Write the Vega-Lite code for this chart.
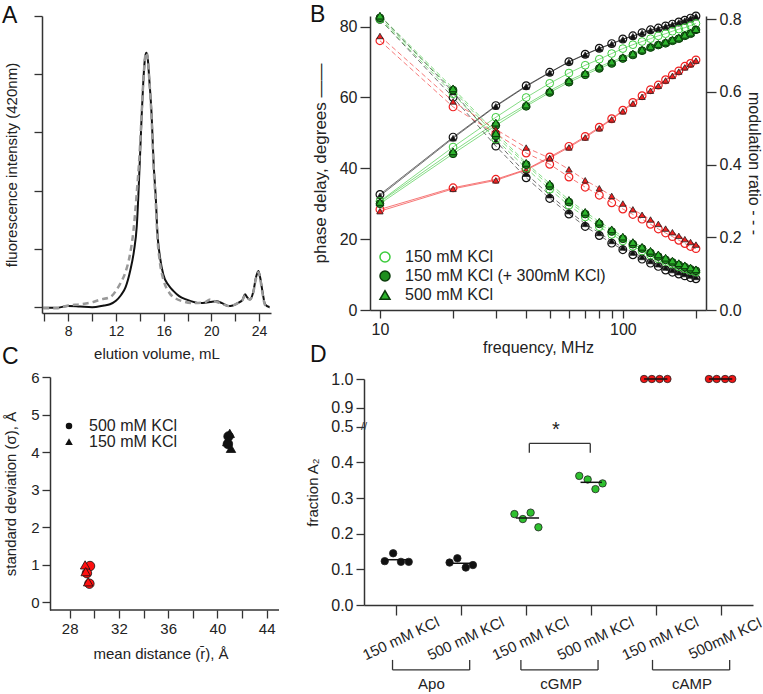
{
"$schema":"https://vega.github.io/schema/vega-lite/v6.json",
"padding":{"left":2,"top":3,"right":0,"bottom":0},
"config":{"font":"Liberation Sans","view":{"stroke":null},
"axis":{"grid":false,"domainColor":"#333","tickColor":"#333","labelColor":"#222","titleColor":"#222","domainWidth":1.5,"tickWidth":1.3,"tickSize":8,"titleFontWeight":"normal","labelFontSize":14,"titleFontSize":15,"labelPadding":3,"labelOverlap":false,"tickCount":30},
"legend":{"labelColor":"#222"},"title":{"color":"#111","fontWeight":"normal"}},
"datasets":{
"ad":[
{"k":"solid","x":5.9,"y":-0.01},{"k":"solid","x":7,"y":-0.01},{"k":"solid","x":8,"y":0.02},{"k":"solid","x":9,"y":0.01},{"k":"solid","x":10,"y":0.0},{"k":"solid","x":11,"y":0.03},{"k":"solid","x":11.5,"y":0.05},{"k":"solid","x":12,"y":0.11},{"k":"solid","x":12.4,"y":0.2},{"k":"solid","x":12.8,"y":0.34},{"k":"solid","x":13.2,"y":0.63},{"k":"solid","x":13.5,"y":0.95},{"k":"solid","x":13.75,"y":1.4},{"k":"solid","x":14.0,"y":2.5},{"k":"solid","x":14.15,"y":3.26},{"k":"solid","x":14.3,"y":3.9},{"k":"solid","x":14.45,"y":4.3},{"k":"solid","x":14.55,"y":4.37},{"k":"solid","x":14.65,"y":4.3},{"k":"solid","x":14.8,"y":3.9},{"k":"solid","x":15.0,"y":3.26},{"k":"solid","x":15.15,"y":2.5},{"k":"solid","x":15.36,"y":1.8},{"k":"solid","x":15.45,"y":1.37},{"k":"solid","x":15.7,"y":0.85},{"k":"solid","x":15.97,"y":0.56},{"k":"solid","x":16.4,"y":0.38},{"k":"solid","x":16.81,"y":0.28},{"k":"solid","x":17.3,"y":0.19},{"k":"solid","x":17.93,"y":0.13},{"k":"solid","x":19.05,"y":0.07},{"k":"solid","x":19.9,"y":0.09},{"k":"solid","x":20.4,"y":0.1},{"k":"solid","x":20.9,"y":0.07},{"k":"solid","x":21.4,"y":0.02},{"k":"solid","x":21.8,"y":0.03},{"k":"solid","x":22.3,"y":0.08},{"k":"solid","x":22.6,"y":0.12},{"k":"solid","x":22.82,"y":0.22},{"k":"solid","x":23.0,"y":0.17},{"k":"solid","x":23.24,"y":0.13},{"k":"solid","x":23.5,"y":0.25},{"k":"solid","x":23.75,"y":0.52},{"k":"solid","x":23.94,"y":0.62},{"k":"solid","x":24.1,"y":0.5},{"k":"solid","x":24.3,"y":0.25},{"k":"solid","x":24.5,"y":0.05},{"k":"solid","x":24.9,"y":0.0},
{"k":"dashed","x":5.9,"y":-0.02},{"k":"dashed","x":7,"y":-0.02},{"k":"dashed","x":8,"y":0.03},{"k":"dashed","x":9,"y":0.05},{"k":"dashed","x":10.1,"y":0.09},{"k":"dashed","x":10.67,"y":0.13},{"k":"dashed","x":11.5,"y":0.17},{"k":"dashed","x":12.06,"y":0.3},{"k":"dashed","x":12.4,"y":0.42},{"k":"dashed","x":12.76,"y":0.58},{"k":"dashed","x":13.18,"y":0.91},{"k":"dashed","x":13.46,"y":1.3},{"k":"dashed","x":13.74,"y":1.95},{"k":"dashed","x":14.0,"y":2.7},{"k":"dashed","x":14.15,"y":3.3},{"k":"dashed","x":14.3,"y":3.9},{"k":"dashed","x":14.45,"y":4.3},{"k":"dashed","x":14.55,"y":4.37},{"k":"dashed","x":14.65,"y":4.3},{"k":"dashed","x":14.8,"y":3.9},{"k":"dashed","x":15.0,"y":3.2},{"k":"dashed","x":15.15,"y":2.45},{"k":"dashed","x":15.36,"y":1.7},{"k":"dashed","x":15.45,"y":1.3},{"k":"dashed","x":15.7,"y":0.75},{"k":"dashed","x":15.97,"y":0.48},{"k":"dashed","x":16.5,"y":0.24},{"k":"dashed","x":17.0,"y":0.15},{"k":"dashed","x":17.6,"y":0.1},{"k":"dashed","x":18.5,"y":0.07},{"k":"dashed","x":19.4,"y":0.08},{"k":"dashed","x":19.9,"y":0.13},{"k":"dashed","x":20.3,"y":0.1},{"k":"dashed","x":20.9,"y":0.06},{"k":"dashed","x":21.4,"y":0.02},{"k":"dashed","x":21.8,"y":0.03},{"k":"dashed","x":22.3,"y":0.08},{"k":"dashed","x":22.6,"y":0.12},{"k":"dashed","x":22.82,"y":0.2},{"k":"dashed","x":23.0,"y":0.16},{"k":"dashed","x":23.24,"y":0.13},{"k":"dashed","x":23.5,"y":0.24},{"k":"dashed","x":23.75,"y":0.5},{"k":"dashed","x":23.94,"y":0.6},{"k":"dashed","x":24.1,"y":0.48},{"k":"dashed","x":24.3,"y":0.22},{"k":"dashed","x":24.5,"y":0.04},{"k":"dashed","x":24.9,"y":0.0}
],
"bd":[
{"f":10,"s":"apo","c":"150 mM KCl","ph":32.6,"m":0.8},{"f":20,"s":"apo","c":"150 mM KCl","ph":48.8,"m":0.585},{"f":30,"s":"apo","c":"150 mM KCl","ph":57.7,"m":0.451},{"f":40,"s":"apo","c":"150 mM KCl","ph":63.3,"m":0.364},{"f":50,"s":"apo","c":"150 mM KCl","ph":67.1,"m":0.307},{"f":60,"s":"apo","c":"150 mM KCl","ph":70.1,"m":0.264},{"f":70,"s":"apo","c":"150 mM KCl","ph":72.2,"m":0.23},{"f":80,"s":"apo","c":"150 mM KCl","ph":73.9,"m":0.205},{"f":90,"s":"apo","c":"150 mM KCl","ph":75.2,"m":0.184},{"f":100,"s":"apo","c":"150 mM KCl","ph":76.5,"m":0.166},{"f":110,"s":"apo","c":"150 mM KCl","ph":77.4,"m":0.152},{"f":120,"s":"apo","c":"150 mM KCl","ph":78.3,"m":0.14},{"f":130,"s":"apo","c":"150 mM KCl","ph":79.1,"m":0.129},{"f":140,"s":"apo","c":"150 mM KCl","ph":79.6,"m":0.12},{"f":150,"s":"apo","c":"150 mM KCl","ph":80.2,"m":0.11},{"f":160,"s":"apo","c":"150 mM KCl","ph":80.7,"m":0.104},{"f":170,"s":"apo","c":"150 mM KCl","ph":81.3,"m":0.099},{"f":180,"s":"apo","c":"150 mM KCl","ph":81.8,"m":0.094},{"f":190,"s":"apo","c":"150 mM KCl","ph":82.4,"m":0.089},{"f":200,"s":"apo","c":"150 mM KCl","ph":83.0,"m":0.086},
{"f":10,"s":"apo","c":"500 mM KCl","ph":32.2,"m":0.81},{"f":20,"s":"apo","c":"500 mM KCl","ph":48.5,"m":0.6},{"f":30,"s":"apo","c":"500 mM KCl","ph":57.5,"m":0.465},{"f":40,"s":"apo","c":"500 mM KCl","ph":63.1,"m":0.375},{"f":50,"s":"apo","c":"500 mM KCl","ph":67.0,"m":0.316},{"f":60,"s":"apo","c":"500 mM KCl","ph":70.0,"m":0.272},{"f":70,"s":"apo","c":"500 mM KCl","ph":72.1,"m":0.237},{"f":80,"s":"apo","c":"500 mM KCl","ph":73.8,"m":0.212},{"f":90,"s":"apo","c":"500 mM KCl","ph":75.1,"m":0.19},{"f":100,"s":"apo","c":"500 mM KCl","ph":76.4,"m":0.172},{"f":110,"s":"apo","c":"500 mM KCl","ph":77.3,"m":0.158},{"f":120,"s":"apo","c":"500 mM KCl","ph":78.2,"m":0.146},{"f":130,"s":"apo","c":"500 mM KCl","ph":79.0,"m":0.135},{"f":140,"s":"apo","c":"500 mM KCl","ph":79.5,"m":0.126},{"f":150,"s":"apo","c":"500 mM KCl","ph":80.1,"m":0.117},{"f":160,"s":"apo","c":"500 mM KCl","ph":80.6,"m":0.11},{"f":170,"s":"apo","c":"500 mM KCl","ph":81.2,"m":0.104},{"f":180,"s":"apo","c":"500 mM KCl","ph":81.7,"m":0.099},{"f":190,"s":"apo","c":"500 mM KCl","ph":82.3,"m":0.095},{"f":200,"s":"apo","c":"500 mM KCl","ph":82.9,"m":0.091},
{"f":10,"s":"cGMP","c":"150 mM KCl","ph":30.7,"m":0.8},{"f":20,"s":"cGMP","c":"150 mM KCl","ph":46.0,"m":0.595},{"f":30,"s":"cGMP","c":"150 mM KCl","ph":54.4,"m":0.47},{"f":40,"s":"cGMP","c":"150 mM KCl","ph":60.0,"m":0.39},{"f":50,"s":"cGMP","c":"150 mM KCl","ph":64.0,"m":0.332},{"f":60,"s":"cGMP","c":"150 mM KCl","ph":66.9,"m":0.288},{"f":70,"s":"cGMP","c":"150 mM KCl","ph":69.1,"m":0.256},{"f":80,"s":"cGMP","c":"150 mM KCl","ph":70.8,"m":0.229},{"f":90,"s":"cGMP","c":"150 mM KCl","ph":72.4,"m":0.208},{"f":100,"s":"cGMP","c":"150 mM KCl","ph":73.8,"m":0.19},{"f":110,"s":"cGMP","c":"150 mM KCl","ph":74.9,"m":0.175},{"f":120,"s":"cGMP","c":"150 mM KCl","ph":75.8,"m":0.162},{"f":130,"s":"cGMP","c":"150 mM KCl","ph":76.6,"m":0.151},{"f":140,"s":"cGMP","c":"150 mM KCl","ph":77.4,"m":0.141},{"f":150,"s":"cGMP","c":"150 mM KCl","ph":78.0,"m":0.133},{"f":160,"s":"cGMP","c":"150 mM KCl","ph":78.7,"m":0.126},{"f":170,"s":"cGMP","c":"150 mM KCl","ph":79.3,"m":0.119},{"f":180,"s":"cGMP","c":"150 mM KCl","ph":79.7,"m":0.113},{"f":190,"s":"cGMP","c":"150 mM KCl","ph":80.3,"m":0.108},{"f":200,"s":"cGMP","c":"150 mM KCl","ph":80.9,"m":0.104},
{"f":10,"s":"cGMP","c":"150 mM KCl (+ 300mM KCl)","ph":30.0,"m":0.804},{"f":20,"s":"cGMP","c":"150 mM KCl (+ 300mM KCl)","ph":44.1,"m":0.605},{"f":30,"s":"cGMP","c":"150 mM KCl (+ 300mM KCl)","ph":52.1,"m":0.479},{"f":40,"s":"cGMP","c":"150 mM KCl (+ 300mM KCl)","ph":57.5,"m":0.4},{"f":50,"s":"cGMP","c":"150 mM KCl (+ 300mM KCl)","ph":61.4,"m":0.341},{"f":60,"s":"cGMP","c":"150 mM KCl (+ 300mM KCl)","ph":64.3,"m":0.297},{"f":70,"s":"cGMP","c":"150 mM KCl (+ 300mM KCl)","ph":66.4,"m":0.264},{"f":80,"s":"cGMP","c":"150 mM KCl (+ 300mM KCl)","ph":68.2,"m":0.237},{"f":90,"s":"cGMP","c":"150 mM KCl (+ 300mM KCl)","ph":69.6,"m":0.216},{"f":100,"s":"cGMP","c":"150 mM KCl (+ 300mM KCl)","ph":71.0,"m":0.196},{"f":110,"s":"cGMP","c":"150 mM KCl (+ 300mM KCl)","ph":72.0,"m":0.181},{"f":120,"s":"cGMP","c":"150 mM KCl (+ 300mM KCl)","ph":73.2,"m":0.169},{"f":130,"s":"cGMP","c":"150 mM KCl (+ 300mM KCl)","ph":74.1,"m":0.157},{"f":140,"s":"cGMP","c":"150 mM KCl (+ 300mM KCl)","ph":74.8,"m":0.147},{"f":150,"s":"cGMP","c":"150 mM KCl (+ 300mM KCl)","ph":75.3,"m":0.138},{"f":160,"s":"cGMP","c":"150 mM KCl (+ 300mM KCl)","ph":76.0,"m":0.131},{"f":170,"s":"cGMP","c":"150 mM KCl (+ 300mM KCl)","ph":76.6,"m":0.124},{"f":180,"s":"cGMP","c":"150 mM KCl (+ 300mM KCl)","ph":77.4,"m":0.118},{"f":190,"s":"cGMP","c":"150 mM KCl (+ 300mM KCl)","ph":78.0,"m":0.112},{"f":200,"s":"cGMP","c":"150 mM KCl (+ 300mM KCl)","ph":79.1,"m":0.108},
{"f":10,"s":"cGMP","c":"500 mM KCl","ph":30.5,"m":0.81},{"f":20,"s":"cGMP","c":"500 mM KCl","ph":44.8,"m":0.61},{"f":30,"s":"cGMP","c":"500 mM KCl","ph":52.9,"m":0.487},{"f":40,"s":"cGMP","c":"500 mM KCl","ph":58.0,"m":0.405},{"f":50,"s":"cGMP","c":"500 mM KCl","ph":61.9,"m":0.348},{"f":60,"s":"cGMP","c":"500 mM KCl","ph":64.8,"m":0.303},{"f":70,"s":"cGMP","c":"500 mM KCl","ph":66.9,"m":0.27},{"f":80,"s":"cGMP","c":"500 mM KCl","ph":68.7,"m":0.243},{"f":90,"s":"cGMP","c":"500 mM KCl","ph":70.1,"m":0.222},{"f":100,"s":"cGMP","c":"500 mM KCl","ph":71.4,"m":0.202},{"f":110,"s":"cGMP","c":"500 mM KCl","ph":72.4,"m":0.187},{"f":120,"s":"cGMP","c":"500 mM KCl","ph":73.5,"m":0.174},{"f":130,"s":"cGMP","c":"500 mM KCl","ph":74.4,"m":0.163},{"f":140,"s":"cGMP","c":"500 mM KCl","ph":75.1,"m":0.153},{"f":150,"s":"cGMP","c":"500 mM KCl","ph":75.7,"m":0.144},{"f":160,"s":"cGMP","c":"500 mM KCl","ph":76.3,"m":0.136},{"f":170,"s":"cGMP","c":"500 mM KCl","ph":76.9,"m":0.129},{"f":180,"s":"cGMP","c":"500 mM KCl","ph":77.7,"m":0.123},{"f":190,"s":"cGMP","c":"500 mM KCl","ph":78.3,"m":0.117},{"f":200,"s":"cGMP","c":"500 mM KCl","ph":79.3,"m":0.112},
{"f":10,"s":"cAMP","c":"150 mM KCl","ph":28.4,"m":0.741},{"f":20,"s":"cAMP","c":"150 mM KCl","ph":34.5,"m":0.559},{"f":30,"s":"cAMP","c":"150 mM KCl","ph":36.9,"m":0.485},{"f":40,"s":"cAMP","c":"150 mM KCl","ph":39.7,"m":0.432},{"f":50,"s":"cAMP","c":"150 mM KCl","ph":43.2,"m":0.401},{"f":60,"s":"cAMP","c":"150 mM KCl","ph":46.2,"m":0.366},{"f":70,"s":"cAMP","c":"150 mM KCl","ph":49.0,"m":0.338},{"f":80,"s":"cAMP","c":"150 mM KCl","ph":51.6,"m":0.316},{"f":90,"s":"cAMP","c":"150 mM KCl","ph":54.0,"m":0.295},{"f":100,"s":"cAMP","c":"150 mM KCl","ph":56.4,"m":0.278},{"f":110,"s":"cAMP","c":"150 mM KCl","ph":58.6,"m":0.263},{"f":120,"s":"cAMP","c":"150 mM KCl","ph":60.5,"m":0.25},{"f":130,"s":"cAMP","c":"150 mM KCl","ph":62.2,"m":0.236},{"f":140,"s":"cAMP","c":"150 mM KCl","ph":63.5,"m":0.223},{"f":150,"s":"cAMP","c":"150 mM KCl","ph":65.0,"m":0.212},{"f":160,"s":"cAMP","c":"150 mM KCl","ph":66.4,"m":0.202},{"f":170,"s":"cAMP","c":"150 mM KCl","ph":67.5,"m":0.192},{"f":180,"s":"cAMP","c":"150 mM KCl","ph":68.8,"m":0.183},{"f":190,"s":"cAMP","c":"150 mM KCl","ph":69.6,"m":0.175},{"f":200,"s":"cAMP","c":"150 mM KCl","ph":70.6,"m":0.169},
{"f":10,"s":"cAMP","c":"500 mM KCl","ph":27.9,"m":0.754},{"f":20,"s":"cAMP","c":"500 mM KCl","ph":34.2,"m":0.574},{"f":30,"s":"cAMP","c":"500 mM KCl","ph":36.6,"m":0.497},{"f":40,"s":"cAMP","c":"500 mM KCl","ph":39.5,"m":0.447},{"f":50,"s":"cAMP","c":"500 mM KCl","ph":42.9,"m":0.418},{"f":60,"s":"cAMP","c":"500 mM KCl","ph":45.9,"m":0.387},{"f":70,"s":"cAMP","c":"500 mM KCl","ph":48.7,"m":0.357},{"f":80,"s":"cAMP","c":"500 mM KCl","ph":51.3,"m":0.335},{"f":90,"s":"cAMP","c":"500 mM KCl","ph":53.8,"m":0.314},{"f":100,"s":"cAMP","c":"500 mM KCl","ph":56.1,"m":0.293},{"f":110,"s":"cAMP","c":"500 mM KCl","ph":58.3,"m":0.277},{"f":120,"s":"cAMP","c":"500 mM KCl","ph":60.2,"m":0.262},{"f":130,"s":"cAMP","c":"500 mM KCl","ph":61.9,"m":0.249},{"f":140,"s":"cAMP","c":"500 mM KCl","ph":63.3,"m":0.237},{"f":150,"s":"cAMP","c":"500 mM KCl","ph":64.8,"m":0.224},{"f":160,"s":"cAMP","c":"500 mM KCl","ph":66.1,"m":0.214},{"f":170,"s":"cAMP","c":"500 mM KCl","ph":67.3,"m":0.204},{"f":180,"s":"cAMP","c":"500 mM KCl","ph":68.5,"m":0.195},{"f":190,"s":"cAMP","c":"500 mM KCl","ph":69.4,"m":0.187},{"f":200,"s":"cAMP","c":"500 mM KCl","ph":70.4,"m":0.18}
],
"cd":[
{"x":29.65,"y":0.97,"s":"500 mM KCl","g":"cAMP"},{"x":29.6,"y":0.5,"s":"500 mM KCl","g":"cAMP"},{"x":29.4,"y":0.78,"s":"500 mM KCl","g":"cAMP"},
{"x":40.9,"y":4.42,"s":"500 mM KCl","g":"Apo"},{"x":40.85,"y":4.22,"s":"500 mM KCl","g":"Apo"},
{"x":29.25,"y":1.0,"s":"150 mM KCl","g":"cAMP"},{"x":29.3,"y":0.82,"s":"150 mM KCl","g":"cAMP"},{"x":29.5,"y":0.55,"s":"150 mM KCl","g":"cAMP"},
{"x":41.0,"y":4.5,"s":"150 mM KCl","g":"Apo"},{"x":40.8,"y":4.28,"s":"150 mM KCl","g":"Apo"},{"x":41.1,"y":4.1,"s":"150 mM KCl","g":"Apo"}
],
"dpts":[
{"x":0.82,"v":0.123,"g":"Apo"},{"x":0.95,"v":0.145,"g":"Apo"},{"x":1.07,"v":0.121,"g":"Apo"},{"x":1.19,"v":0.121,"g":"Apo"},
{"x":1.82,"v":0.119,"g":"Apo"},{"x":1.94,"v":0.131,"g":"Apo"},{"x":2.07,"v":0.105,"g":"Apo"},{"x":2.18,"v":0.112,"g":"Apo"},
{"x":2.82,"v":0.255,"g":"cGMP"},{"x":2.95,"v":0.241,"g":"cGMP"},{"x":3.07,"v":0.259,"g":"cGMP"},{"x":3.19,"v":0.218,"g":"cGMP"},
{"x":3.82,"v":0.362,"g":"cGMP"},{"x":3.95,"v":0.352,"g":"cGMP"},{"x":4.07,"v":0.325,"g":"cGMP"},{"x":4.18,"v":0.341,"g":"cGMP"},
{"x":4.82,"v":1.0,"g":"cAMP"},{"x":4.94,"v":1.0,"g":"cAMP"},{"x":5.06,"v":1.0,"g":"cAMP"},{"x":5.18,"v":1.0,"g":"cAMP"},
{"x":5.82,"v":1.0,"g":"cAMP"},{"x":5.94,"v":1.0,"g":"cAMP"},{"x":6.07,"v":1.0,"g":"cAMP"},{"x":6.18,"v":1.0,"g":"cAMP"}
],
"dmed":[{"a":0.84,"b":1.17,"v":0.127},{"a":1.84,"b":2.16,"v":0.117},{"a":2.84,"b":3.2,"v":0.244},{"a":3.84,"b":4.17,"v":0.344},{"a":4.82,"b":5.18,"v":1.0},{"a":5.82,"b":6.18,"v":1.0}],
"dsig":[{"a":3.05,"b":3.99,"mid":3.46,"t":"*"}],
"dgrp":[{"n":"Apo","a":0.94,"b":2.13,"mid":1.54},{"n":"cGMP","a":2.92,"b":4.11,"mid":3.54},{"n":"cAMP","a":4.95,"b":6.14,"mid":5.56}],
"dbrk":[{"t":"//"}]
},
"vconcat":[
{"hconcat":[
{"width":229,"height":297,
"title":{"text":"A","anchor":"start","frame":"group","fontSize":23,"fontWeight":"normal","dx":-40,"offset":0,"baseline":"alphabetic","dy":31},
"data":{"name":"ad"},
"encoding":{
"x":{"field":"x","type":"quantitative","scale":{"domain":[5.8,25],"nice":false,"zero":false},"axis":{"values":[6,8,10,12,14,16,18,20,22,24],"format":"d","labelExpr":"datum.value%4==0?datum.label:''","title":"elution volume,  mL","labelFontSize":14,"titleFontSize":15,"titlePadding":8}},
"y":{"field":"y","type":"quantitative","scale":{"domain":[-0.1,5],"nice":false,"zero":false},"axis":{"values":[0,1,2,3,4,5],"labels":false,"title":"fluorescence intensity (420nm)","titleFontSize":15,"titlePadding":14}}},
"layer":[
{"transform":[{"filter":"datum.k=='solid'"}],"mark":{"type":"line","color":"#111","strokeWidth":2,"interpolate":"monotone"}},
{"transform":[{"filter":"datum.k=='dashed'"}],"mark":{"type":"line","color":"#999","strokeWidth":2.5,"strokeDash":[6,4],"interpolate":"monotone"}}
]},
{"width":336,"height":294,
"title":{"text":"B","anchor":"start","frame":"group","fontSize":23,"fontWeight":"normal","dx":-60,"offset":0,"baseline":"alphabetic","dy":35},
"data":{"name":"bd"},
"encoding":{"x":{"field":"f","type":"quantitative","scale":{"type":"log","domain":[9.1,220],"nice":false},"axis":{"values":[10,20,30,40,50,60,70,80,90,100,200],"format":"d","labelExpr":"datum.value==10||datum.value==100?datum.label:''","title":"frequency, MHz","labelFontSize":16,"titleFontSize":16,"titlePadding":2}}},
"layer":[
{"encoding":{"y":{"field":"ph","type":"quantitative","scale":{"domain":[0,83],"nice":false,"zero":false},"axis":{"values":[0,20,40,60,80],"format":"d","title":"phase delay, degrees ——","titleFontSize":17,"labelFontSize":16,"tickSize":10,"titlePadding":10}}},
"layer":[
{"mark":{"type":"line","strokeWidth":1,"opacity":0.6},"encoding":{"color":{"field":"s","type":"nominal","scale":{"domain":["apo","cGMP","cAMP"],"range":["#111111","#33c433","#f02020"]},"legend":null},"detail":{"field":"c"}}},
{"transform":[{"filter":"datum.s!='cGMP' && datum.c=='150 mM KCl'"}],"mark":{"type":"point","shape":"circle","filled":false,"size":60,"strokeWidth":1.2,"opacity":1},"encoding":{"color":{"field":"s","type":"nominal","legend":null}}},
{"transform":[{"filter":"datum.s!='cGMP' && datum.c=='500 mM KCl'"}],"mark":{"type":"point","shape":"triangle-up","filled":true,"size":40,"stroke":"#222","strokeWidth":0.8,"opacity":1},"encoding":{"color":{"field":"s","type":"nominal","legend":null}}},
{"transform":[{"filter":"datum.s=='cGMP'"}],"mark":{"type":"point","filled":true,"size":60,"strokeWidth":1,"opacity":1},"encoding":{
"shape":{"field":"c","type":"nominal","scale":{"domain":["150 mM KCl","150 mM KCl (+ 300mM KCl)","500 mM KCl"],"range":["circle","circle","triangle-up"]},"legend":{"title":null,"orient":"bottom-left","offset":7,"padding":0,"labelFontSize":16,"symbolSize":100,"labelOffset":12,"rowPadding":3,"labelLimit":400}},
"fill":{"field":"c","type":"nominal","scale":{"domain":["150 mM KCl","150 mM KCl (+ 300mM KCl)","500 mM KCl"],"range":["transparent","#1e8e1e","#2db52d"]},"legend":{"title":null,"orient":"bottom-left","offset":7,"padding":0,"labelFontSize":16,"symbolSize":100,"labelOffset":12,"rowPadding":3,"labelLimit":400}},
"stroke":{"field":"c","type":"nominal","scale":{"domain":["150 mM KCl","150 mM KCl (+ 300mM KCl)","500 mM KCl"],"range":["#3ccc3c","#0a3a0a","#0a3a0a"]},"legend":{"title":null,"orient":"bottom-left","offset":7,"padding":0,"labelFontSize":16,"symbolSize":100,"labelOffset":12,"rowPadding":3,"labelLimit":400}}}}
]},
{"encoding":{"y":{"field":"m","type":"quantitative","scale":{"domain":[0,0.809],"nice":false,"zero":false},"axis":{"orient":"right","values":[0,0.2,0.4,0.6,0.8],"format":".1f","title":"modulation ratio - - -","titleFontSize":16,"labelFontSize":16,"tickSize":10,"titlePadding":4}}},
"layer":[
{"mark":{"type":"line","strokeWidth":1,"opacity":0.6,"strokeDash":[5,3]},"encoding":{"color":{"field":"s","type":"nominal","legend":null},"detail":{"field":"c"}}},
{"transform":[{"filter":"datum.s!='cGMP' && datum.c=='150 mM KCl'"}],"mark":{"type":"point","shape":"circle","filled":false,"size":60,"strokeWidth":1.2,"opacity":1},"encoding":{"color":{"field":"s","type":"nominal","legend":null}}},
{"transform":[{"filter":"datum.s!='cGMP' && datum.c=='500 mM KCl'"}],"mark":{"type":"point","shape":"triangle-up","filled":true,"size":40,"stroke":"#222","strokeWidth":0.8,"opacity":1},"encoding":{"color":{"field":"s","type":"nominal","legend":null}}},
{"transform":[{"filter":"datum.s=='cGMP'"}],"mark":{"type":"point","filled":true,"size":60,"strokeWidth":1,"opacity":1},"encoding":{
"shape":{"field":"c","type":"nominal","legend":{"title":null,"orient":"bottom-left","offset":7,"padding":0,"labelFontSize":16,"symbolSize":100,"labelOffset":12,"rowPadding":3,"labelLimit":400}},
"fill":{"field":"c","type":"nominal","legend":{"title":null,"orient":"bottom-left","offset":7,"padding":0,"labelFontSize":16,"symbolSize":100,"labelOffset":12,"rowPadding":3,"labelLimit":400}},
"stroke":{"field":"c","type":"nominal","legend":{"title":null,"orient":"bottom-left","offset":7,"padding":0,"labelFontSize":16,"symbolSize":100,"labelOffset":12,"rowPadding":3,"labelLimit":400}}}}
]}
],
"resolve":{"scale":{"y":"independent"}}}
],"spacing":99,"bounds":"flush",
"resolve":{"scale":{"shape":"independent","fill":"independent","stroke":"independent","color":"independent"},"legend":{"shape":"independent","fill":"independent","stroke":"independent","color":"independent"}}},
{"hconcat":[
{"width":237,"height":233,
"title":{"text":"C","anchor":"start","frame":"group","fontSize":23,"fontWeight":"normal","dx":-40,"offset":0,"baseline":"alphabetic","dy":17},
"layer":[
{"data":{"name":"cd"},
"mark":{"type":"point","filled":true,"size":90,"stroke":"#111","strokeWidth":0.8,"opacity":1},
"encoding":{
"x":{"field":"x","type":"quantitative","title":"mean distance (r̄), Å","scale":{"domain":[25.75,45],"nice":false,"zero":false},"axis":{"values":[28,30,32,34,36,38,40,42,44],"format":"d","labelExpr":"datum.value%4==0?datum.label:''","domain":false,"labelFontSize":15,"titleFontSize":15,"titlePadding":10}},
"y":{"field":"y","type":"quantitative","title":"standard deviation (σ), Å","scale":{"domain":[-0.2,6],"nice":false,"zero":false},"axis":{"values":[0,1,2,3,4,5,6],"format":"d","offset":-8,"labelFontSize":15,"titleFontSize":15,"titlePadding":12}},
"shape":{"field":"s","type":"nominal","scale":{"domain":["500 mM KCl","150 mM KCl"],"range":["circle","triangle-up"]},"legend":{"title":null,"orient":"none","legendX":19,"legendY":41,"labelFontSize":16,"symbolSize":25,"symbolFillColor":"#111","symbolStrokeColor":"#111","padding":0,"rowPadding":0,"labelOffset":12}},
"color":{"field":"g","type":"nominal","scale":{"domain":["cAMP","Apo"],"range":["#ff1010","#111111"]},"legend":null}}},
{"data":{"values":[{}]},"mark":{"type":"rule","color":"#333","strokeWidth":1.5},
"encoding":{"x":{"datum":26.4,"type":"quantitative","title":"mean distance (r̄), Å"},"x2":{"datum":45},"y":{"datum":-0.2,"type":"quantitative","title":"standard deviation (σ), Å"}}}
]},
{"width":389,"height":228,
"title":{"text":"D","anchor":"start","frame":"group","fontSize":23,"fontWeight":"normal","dx":-54,"offset":0,"baseline":"alphabetic","dy":14},
"layer":[
{"data":{"name":"dpts"},"mark":{"type":"point","filled":true,"size":55,"stroke":"#222","strokeWidth":0.8,"opacity":1},
"encoding":{
"x":{"field":"x","type":"quantitative","title":null,"scale":{"domain":[0.5,6.5],"nice":false,"zero":false},"axis":{"values":[1,2,3,4,5,6],"labelExpr":"datum.value==6?'500mM KCl':(datum.value%2==1?'150 mM KCl':'500 mM KCl')","labelAngle":-25,"labelAlign":"center","labelBaseline":"middle","labelPadding":23,"labelOffset":4,"tickSize":10,"labelFontSize":15,"labelOverlap":false,"tickCount":30}},
"y":{"field":"v","type":"quantitative","title":"fraction A₂","scale":{"domain":[0,0.5,0.9,1.0],"range":[228,49.7,30.7,2],"nice":false,"zero":false},"axis":{"values":[0,0.1,0.2,0.3,0.4,0.5,0.9,1.0],"format":".1f","labelFontSize":16,"titleFontSize":15,"titlePadding":10,"labelOverlap":false,"tickCount":30}},
"color":{"field":"g","type":"nominal","scale":{"domain":["Apo","cGMP","cAMP"],"range":["#111111","#2ec02e","#f01414"]},"legend":null}}},
{"data":{"name":"dmed"},"mark":{"type":"rule","color":"#111","strokeWidth":1.5},
"encoding":{"x":{"field":"a","type":"quantitative","title":null},"x2":{"field":"b"},"y":{"field":"v","type":"quantitative","title":"fraction A₂"}}},
{"data":{"name":"dsig"},"mark":{"type":"rule","color":"#333","strokeWidth":1.3},
"encoding":{"x":{"field":"a","type":"quantitative","title":null},"x2":{"field":"b"},"y":{"datum":0.453,"type":"quantitative","title":"fraction A₂"}}},
{"data":{"name":"dsig"},"mark":{"type":"rule","color":"#333","strokeWidth":1.3},
"encoding":{"x":{"field":"a","type":"quantitative","title":null},"y":{"datum":0.427,"type":"quantitative","title":"fraction A₂"},"y2":{"datum":0.453}}},
{"data":{"name":"dsig"},"mark":{"type":"rule","color":"#333","strokeWidth":1.3},
"encoding":{"x":{"field":"b","type":"quantitative","title":null},"y":{"datum":0.427,"type":"quantitative","title":"fraction A₂"},"y2":{"datum":0.453}}},
{"data":{"name":"dsig"},"mark":{"type":"text","fontSize":20,"color":"#222","baseline":"middle"},
"encoding":{"x":{"field":"mid","type":"quantitative","title":null},"y":{"datum":0.49,"type":"quantitative","title":"fraction A₂"},"text":{"field":"t"}}},
{"data":{"name":"dbrk"},"mark":{"type":"text","fontSize":11,"color":"#333","baseline":"middle","align":"center"},
"encoding":{"x":{"datum":0.5,"type":"quantitative","title":null},"y":{"datum":0.5,"type":"quantitative","title":"fraction A₂"},"text":{"field":"t"}}},
{"data":{"name":"dgrp"},"mark":{"type":"rule","color":"#333","strokeWidth":1.3},
"encoding":{"x":{"field":"a","type":"quantitative","title":null},"x2":{"field":"b"},"y":{"datum":-0.182,"type":"quantitative","title":"fraction A₂"}}},
{"data":{"name":"dgrp"},"mark":{"type":"rule","color":"#333","strokeWidth":1.3},
"encoding":{"x":{"field":"a","type":"quantitative","title":null},"y":{"datum":-0.154,"type":"quantitative","title":"fraction A₂"},"y2":{"datum":-0.182}}},
{"data":{"name":"dgrp"},"mark":{"type":"rule","color":"#333","strokeWidth":1.3},
"encoding":{"x":{"field":"b","type":"quantitative","title":null},"y":{"datum":-0.154,"type":"quantitative","title":"fraction A₂"},"y2":{"datum":-0.182}}},
{"data":{"name":"dgrp"},"mark":{"type":"text","fontSize":15,"color":"#222","baseline":"middle"},
"encoding":{"x":{"field":"mid","type":"quantitative","title":null},"y":{"datum":-0.222,"type":"quantitative","title":"fraction A₂"},"text":{"field":"n"}}}
]}
],"spacing":85,"bounds":"flush",
"resolve":{"scale":{"shape":"independent","fill":"independent","stroke":"independent","color":"independent"},"legend":{"shape":"independent","fill":"independent","stroke":"independent","color":"independent"}}}
],
"spacing":-17,
"bounds":"full",
"resolve":{"scale":{"shape":"independent","fill":"independent","stroke":"independent","color":"independent"},"legend":{"shape":"independent","fill":"independent","stroke":"independent","color":"independent"}}
}
